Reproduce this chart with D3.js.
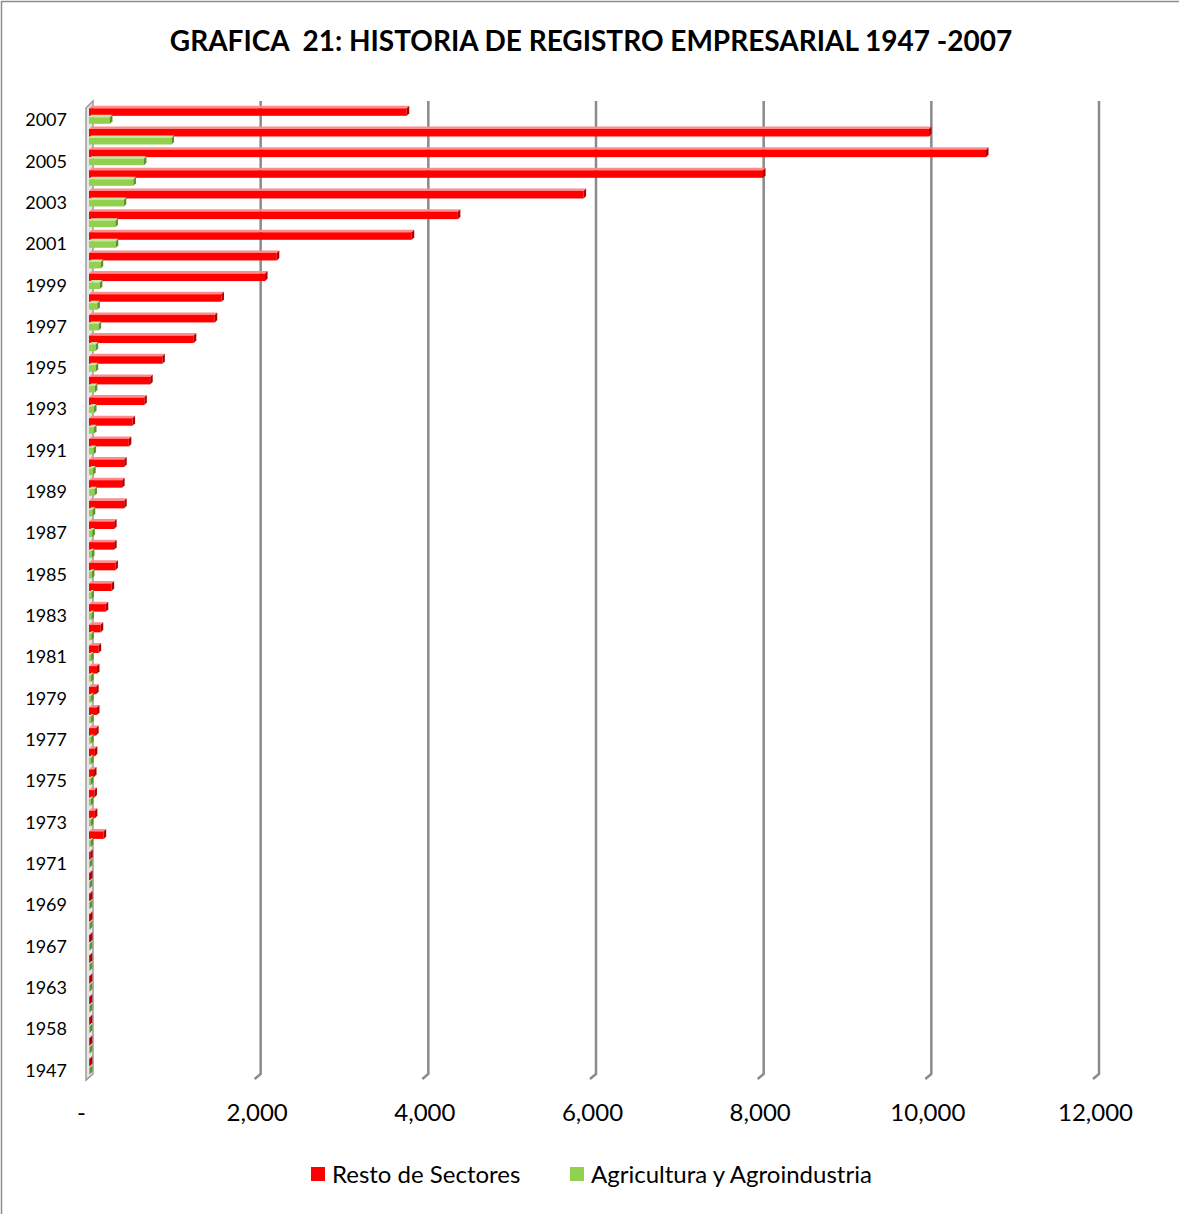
<!DOCTYPE html>
<html>
<head>
<meta charset="utf-8">
<script src="https://cdn.jsdelivr.net/npm/d3@7"></script>
<style>
  body { margin: 0; background: #fff; }
  svg { display: block; font-family: Lato, "Open Sans", sans-serif; }
</style>
</head>
<body>
<div id="chart"></div>
<script>
// categories, top to bottom
var years = ["2007","2006","2005","2004","2003","2002","2001","2000","1999","1998",
  "1997","1996","1995","1994","1993","1992","1991","1990","1989","1988",
  "1987","1986","1985","1984","1983","1982","1981","1980","1979","1978",
  "1977","1976","1975","1974","1973","1972","1971","1970","1969","1968",
  "1967","1965","1963","1960","1958","1950","1947"];

var resto = [3790, 10020, 10700, 8040, 5900, 4400, 3850, 2240, 2100, 1580,
  1500, 1250, 875, 730, 660, 520, 475, 420, 395, 420,
  300, 300, 315, 270, 200, 140, 115, 95, 85, 95,
  85, 70, 60, 65, 70, 175, 15, 12, 12, 12,
  12, 10, 10, 10, 10, 10, 10];

var agri = [250, 985, 655, 530, 415, 315, 320, 140, 130, 100,
  115, 80, 80, 70, 60, 60, 55, 50, 65, 45,
  40, 35, 35, 30, 30, 28, 25, 25, 25, 25,
  25, 25, 22, 22, 22, 20, 10, 10, 10, 10,
  10, 10, 10, 10, 10, 10, 10];

var seriesNames = ["Resto de Sectores", "Agricultura y Agroindustria"];
var xTicks = [0, 2000, 4000, 6000, 8000, 10000, 12000];

var W = 1179, H = 1214;
var depth = { x: 4, y: -5 };   // 3D offset of the back wall
var red = { front: "#ff0000", top: "#ff8c8c", side: "#b00000" };
var green = { front: "#92d050", top: "#c4e6a4", side: "#5f8f30" };

var svg = d3.select('#chart').append('svg')
  .attr('width', W).attr('height', H);

// outer frame (only left/top edges are in view)
svg.append('rect')
  .attr('x', 1.5).attr('y', 1.5).attr('width', W + 10).attr('height', H + 10)
  .attr('fill', 'none').attr('stroke', '#8c8c8c').attr('stroke-width', 1.5);

svg.append('text')
  .attr('x', 591).attr('y', 51)
  .attr('text-anchor', 'middle')
  .style('font-size', '28px').style('font-weight', 'bold')
  .style('white-space', 'pre')
  .text('GRAFICA  21: HISTORIA DE REGISTRO EMPRESARIAL 1947 -2007');

var xS = d3.scaleLinear().domain([0, 12000]).range([89, 1095]);
var yS = d3.scaleBand().domain(years).range([106, 1077]);

var plotTop = 101, plotBottom = 1074;

// gridlines on the back wall with a floor foot
var grid = svg.append('g');
xTicks.slice(1).forEach(function(t) {
  var gx = xS(t) + depth.x;
  grid.append('path')
    .attr('d', 'M' + gx + ',' + plotTop + 'V' + plotBottom + 'l' + (-depth.x - 2) + ',' + (-depth.y))
    .attr('fill', 'none').attr('stroke', '#8a8a8a').attr('stroke-width', 2.5);
});

// left wall
var wx = xS(0);
svg.append('path')
  .attr('d', 'M' + (wx - 3) + ',' + (plotTop + 7) + 'L' + (wx + depth.x) + ',' + plotTop +
        'V' + plotBottom + 'L' + (wx - 3) + ',' + (plotBottom + 6) + 'Z')
  .attr('fill', '#e6e6e6').attr('stroke', '#9a9a9a').attr('stroke-width', 1.5);

// bars with a thin 3D top face and dark end face
function bar3d(g, x0, x1, y, h, c) {
  var d = 2.5;
  g.append('path')
    .attr('d', 'M' + x0 + ',' + y + 'l' + d + ',' + (-d) + 'H' + (x1 + d) + 'l' + (-d) + ',' + d + 'Z')
    .attr('fill', c.top);
  g.append('rect')
    .attr('x', x0).attr('y', y).attr('width', Math.max(0, x1 - x0)).attr('height', h)
    .attr('fill', c.front);
  g.append('path')
    .attr('d', 'M' + x1 + ',' + y + 'l' + d + ',' + (-d) + 'v' + h + 'l' + (-d) + ',' + d + 'Z')
    .attr('fill', c.side);
}

var bars = svg.append('g');
years.forEach(function(yr, i) {
  var c = yS(yr) + yS.bandwidth() / 2;
  bar3d(bars, xS(0), xS(resto[i]), c - 8, 7.5, red);
  bar3d(bars, xS(0), xS(agri[i]), c + 1, 6.5, green);
});

// year axis, every other category
var yAxis = svg.append('g')
  .attr('transform', 'translate(67,0)')
  .call(d3.axisLeft(yS).tickSize(0).tickPadding(0)
    .tickValues(years.filter(function(d, i) { return i % 2 === 0; })));
yAxis.select('.domain').remove();
yAxis.selectAll('text')
  .attr('dy', '0.55em')
  .style('font-size', '18px').style('font-family', 'Lato, sans-serif').attr('fill', '#000');

// value axis
var xAxis = svg.append('g')
  .attr('transform', 'translate(0,1098)')
  .call(d3.axisBottom(xS).tickValues(xTicks).tickSize(0).tickPadding(0)
    .tickFormat(function(d) { return d === 0 ? '-' : d3.format(',')(d); }));
xAxis.select('.domain').remove();
xAxis.selectAll('text')
  .attr('dy', '0.95em')
  .style('font-size', '24px').style('font-family', 'Lato, sans-serif').attr('fill', '#000');
xAxis.selectAll('.tick').filter(function(d) { return d === 0; })
  .select('text').attr('dx', -8);

// legend
var legend = svg.append('g').attr('transform', 'translate(311,1175)');
var legX = [0, 259];
seriesNames.forEach(function(name, i) {
  var lg = legend.append('g').attr('transform', 'translate(' + legX[i] + ',0)');
  lg.append('rect').attr('x', 0).attr('y', -8).attr('width', 14).attr('height', 14)
    .attr('fill', i === 0 ? red.front : green.front);
  lg.append('text').attr('x', 21).attr('y', 0).attr('dy', '0.35em')
    .style('font-size', '24px').text(name);
});
</script>
</body>
</html>
